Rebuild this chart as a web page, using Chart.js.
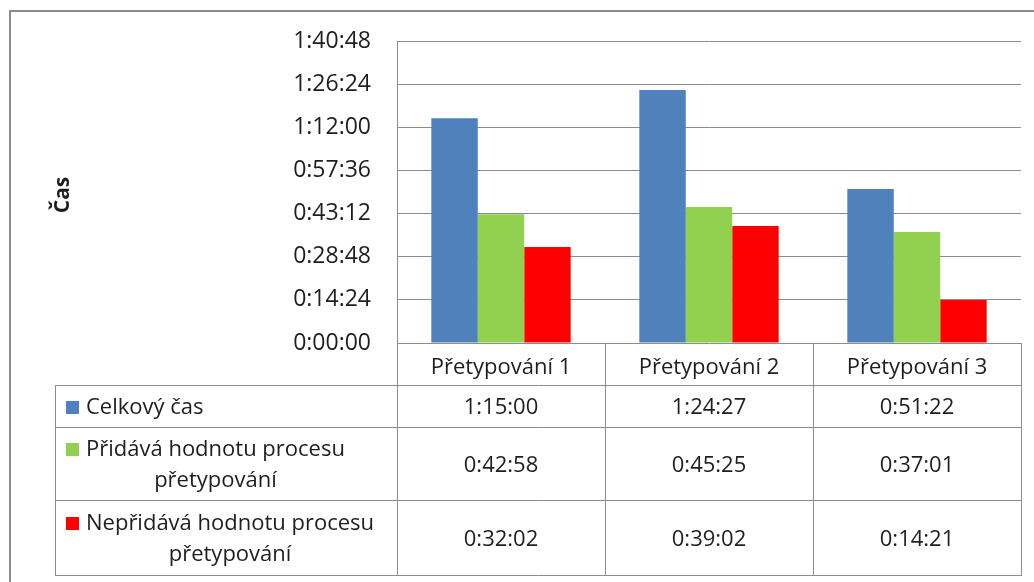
<!DOCTYPE html>
<html>
<head>
<meta charset="utf-8">
<script src="https://cdn.jsdelivr.net/npm/chart.js@4/dist/chart.umd.min.js"></script>
<style>
  html, body { margin: 0; padding: 0; background: #fff; }
  #wrap { width: 1034px; height: 582px; position: relative; }
</style>
</head>
<body>
<div id="wrap"><canvas id="chart"></canvas></div>
<script>
// data (seconds)
const categories = ['Přetypování 1', 'Přetypování 2', 'Přetypování 3'];
const seriesNames = [['Celkový čas'], ['Přidává hodnotu procesu', 'přetypování'], ['Nepřidává hodnotu procesu', 'přetypování']];
const celkovy = [4500, 5067, 3082];      // 1:15:00, 1:24:27, 0:51:22
const pridava = [2578, 2725, 2221];      // 0:42:58, 0:45:25, 0:37:01
const nepridava = [1922, 2342, 861];     // 0:32:02, 0:39:02, 0:14:21
const seriesColors = ['#4F81BD', '#92D050', '#FF0000'];
const yMax = 6048;   // 1:40:48
const yStep = 864;   // 0:14:24
const axisTitle = 'Čas';

const FONT = '"Open Sans", Lato, sans-serif';
const gridColor = '#8c8c8c';
const textColor = '#1e1e1e';

function fmt(sec) {
  const h = Math.floor(sec / 3600);
  const m = Math.floor((sec % 3600) / 60);
  const s = sec % 60;
  return h + ':' + String(m).padStart(2, '0') + ':' + String(s).padStart(2, '0');
}

const allSeries = [celkovy, pridava, nepridava];

// table rows below the plot
const rowTops = [385, 427, 500, 575];
const tableLeft = 55;

const tablePlugin = {
  id: 'dataTable',
  afterDraw(chart) {
    const ctx = chart.ctx;
    const area = chart.chartArea;
    const x = chart.scales.x;
    const n = categories.length;
    const colW = (area.right - area.left) / n;
    ctx.save();

    // outer frame
    ctx.strokeStyle = '#8a8a8a';
    ctx.lineWidth = 2;
    ctx.strokeRect(10, 11, 1100, 700);

    ctx.strokeStyle = gridColor;
    ctx.lineWidth = 1;
    // vertical lines of header row + value columns
    for (let i = 0; i <= n; i++) {
      const cx = Math.round(area.left + i * colW) + 0.5;
      ctx.beginPath();
      ctx.moveTo(cx, area.bottom);
      ctx.lineTo(cx, rowTops[rowTops.length - 1]);
      ctx.stroke();
    }
    // left column
    ctx.beginPath();
    ctx.moveTo(tableLeft + 0.5, rowTops[0]);
    ctx.lineTo(tableLeft + 0.5, rowTops[rowTops.length - 1]);
    ctx.stroke();
    // horizontal lines
    rowTops.forEach(y => {
      ctx.beginPath();
      ctx.moveTo(tableLeft, y + 0.5);
      ctx.lineTo(Math.round(area.right) + 1, y + 0.5);
      ctx.stroke();
    });

    ctx.font = '22px ' + FONT;
    ctx.fillStyle = textColor;
    ctx.textBaseline = 'middle';
    for (let r = 0; r < allSeries.length; r++) {
      const top = rowTops[r], bot = rowTops[r + 1];
      const mid = (top + bot) / 2 + 2;
      // values
      ctx.textAlign = 'center';
      allSeries[r].forEach((v, i) => {
        ctx.fillText(fmt(v), x.getPixelForValue(i), mid);
      });
      // legend key + name
      const lines = seriesNames[r];
      const lh = 31;
      const y0 = mid - (lines.length - 1) * lh / 2;
      ctx.fillStyle = seriesColors[r];
      ctx.fillRect(66, Math.round(y0 - 7), 13, 13);
      ctx.fillStyle = textColor;
      ctx.textAlign = 'left';
      const tx = 86;
      ctx.fillText(lines[0], tx, y0);
      const w0 = ctx.measureText(lines[0]).width;
      ctx.textAlign = 'center';
      for (let k = 1; k < lines.length; k++) {
        ctx.fillText(lines[k], tx + w0 / 2, y0 + k * lh);
      }
    }

    // axis title
    ctx.save();
    ctx.translate(63, 195);
    ctx.rotate(-Math.PI / 2);
    ctx.font = 'bold 21px ' + FONT;
    ctx.textAlign = 'center';
    ctx.fillText(axisTitle, 0, 0);
    ctx.restore();

    ctx.restore();
  }
};

new Chart(document.getElementById('chart'), {
  type: 'bar',
  data: {
    labels: categories,
    datasets: allSeries.map((d, i) => ({
      label: seriesNames[i].join(' '),
      data: d,
      backgroundColor: seriesColors[i],
      categoryPercentage: 0.67,
      barPercentage: 1.0
    }))
  },
  options: {
    responsive: true,
    maintainAspectRatio: false,
    animation: false,
    layout: { padding: { top: 41, right: 13, bottom: 197, left: 0 } },
    plugins: { legend: { display: false }, tooltip: { enabled: false } },
    scales: {
      x: {
        afterFit(scale) { scale.height = 42; },
        grid: { display: false },
        border: { display: false },
        ticks: { color: textColor, font: { family: FONT, size: 22 }, padding: 4, maxRotation: 0 }
      },
      y: {
        min: 0,
        max: yMax,
        afterFit(scale) { scale.width = 397; },
        grid: { color: gridColor, drawTicks: false },
        border: { color: gridColor },
        ticks: {
          stepSize: yStep,
          padding: 26,
          color: textColor,
          font: { family: FONT, size: 23 },
          callback: v => fmt(v)
        }
      }
    }
  },
  plugins: [tablePlugin]
});
</script>
</body>
</html>
